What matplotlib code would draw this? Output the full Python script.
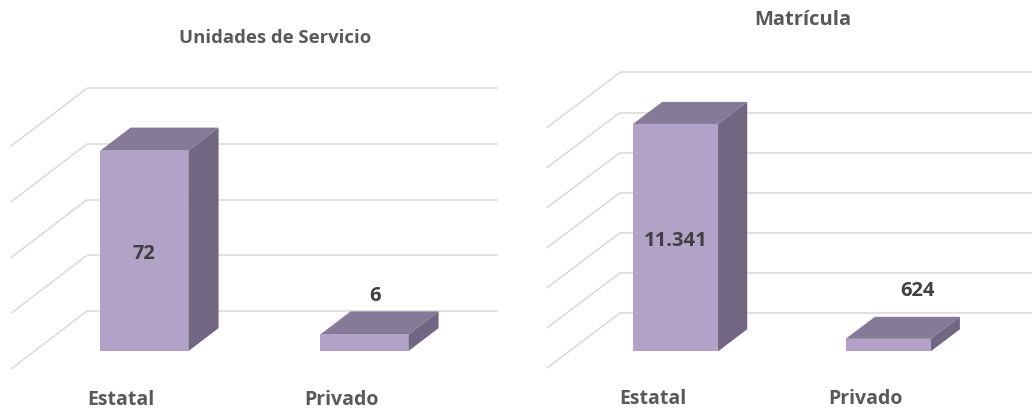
import numpy as np
import matplotlib
matplotlib.use("Agg")
import matplotlib.pyplot as plt

# ---- data ----
categories = ["Estatal", "Privado"]
unidades_values = [72, 6]
matricula_values = [11341, 624]
titles = ["Unidades de Servicio", "Matrícula"]
unidades_ticks = [0, 20, 40, 60, 80]
matricula_ticks = [0, 2000, 4000, 6000, 8000, 10000, 12000]

FRONT = "#B3A2C7"
TOP = "#857A97"
SIDE = "#716783"
GRID = "#D9D9D9"
TXT = "#595959"
LBL = "#404040"
FONT = "Open Sans"

W, H = 1032, 410
fig = plt.figure(figsize=(W / 100, H / 100), dpi=100)


def fmt(v):
    return f"{v:,}".replace(",", ".")


def make_chart(x0, x1, cat0_px, cat_px, floor_px, px_per_val, depth, values,
               ticks, right_cat, small_label_off):
    ax = fig.add_axes([x0 / W, 0, (x1 - x0) / W, 1])
    ax.set_xlim((x0 - cat0_px) / cat_px, (x1 - cat0_px) / cat_px)
    ax.set_ylim((floor_px - H) / px_per_val, floor_px / px_per_val)
    ax.axis("off")
    fig.canvas.draw()
    dx, dy = depth

    def P(c, v, z):
        d = ax.transData.transform((c, v)) + np.array([z * dx, z * dy])
        return ax.transData.inverted().transform(d)

    # gridlines
    for t in ticks:
        a, b = P(-0.5, t, 0), P(-0.5, t, 1)
        ax.plot([a[0], b[0]], [a[1], b[1]], color=GRID, lw=1.1, zorder=1,
                solid_capstyle="butt")
        e = P(right_cat, t, 1)
        ax.plot([b[0], e[0]], [b[1], e[1]], color=GRID, lw=1.1, zorder=1,
                solid_capstyle="butt")

    w = 0.4
    z0, z1 = 0.307, 0.705
    for i, (cat, v) in enumerate(zip(categories, values)):
        l, r = i - w / 2, i + w / 2
        front = [P(l, 0, z0), P(r, 0, z0), P(r, v, z0), P(l, v, z0)]
        top = [P(l, v, z0), P(r, v, z0), P(r, v, z1), P(l, v, z1)]
        side = [P(r, 0, z0), P(r, 0, z1), P(r, v, z1), P(r, v, z0)]
        for poly, col in ((side, SIDE), (top, TOP), (front, FRONT)):
            poly = np.array(poly)
            ax.fill(poly[:, 0], poly[:, 1], color=col, lw=0, zorder=3)
        # category label
        lp = P(i, 0, 0)
        ax.annotate(cat, lp, xytext=(0, -30), textcoords="offset pixels",
                    ha="center", va="center", fontsize=14, fontweight="bold",
                    color=TXT, family=FONT)
        # value label
        if i == 0:
            cp = P(i, v / 2, z0)
            ax.annotate(fmt(v), cp, xytext=(0, -2), textcoords="offset pixels",
                        ha="center", va="center", fontsize=14.5,
                        fontweight="bold", color=LBL, family=FONT, zorder=5)
        else:
            cp = P(i, v, z0)
            ax.annotate(fmt(v), cp, xytext=small_label_off,
                        textcoords="offset pixels", ha="center", va="center",
                        fontsize=14.5, fontweight="bold", color=LBL,
                        family=FONT, zorder=5)
    return ax


make_chart(0, 516, 121, 220, 370, 2.785, (76, 58), unidades_values,
           unidades_ticks, 1.368, (11, 39))
make_chart(516, 1032, 653, 212.7, 369.3, 0.02005, (73.3, 55.3),
           matricula_values, matricula_ticks, 1.6, (29, 49))

fig.text(275 / W, 1 - 38 / H, titles[0], ha="center", va="center",
         fontsize=13.3, fontweight="bold", color=TXT, family=FONT)
fig.text(803 / W, 1 - 20 / H, titles[1], ha="center", va="center",
         fontsize=14.5, fontweight="bold", color=TXT, family=FONT)

fig.savefig("out.png", dpi=100, facecolor="white")
